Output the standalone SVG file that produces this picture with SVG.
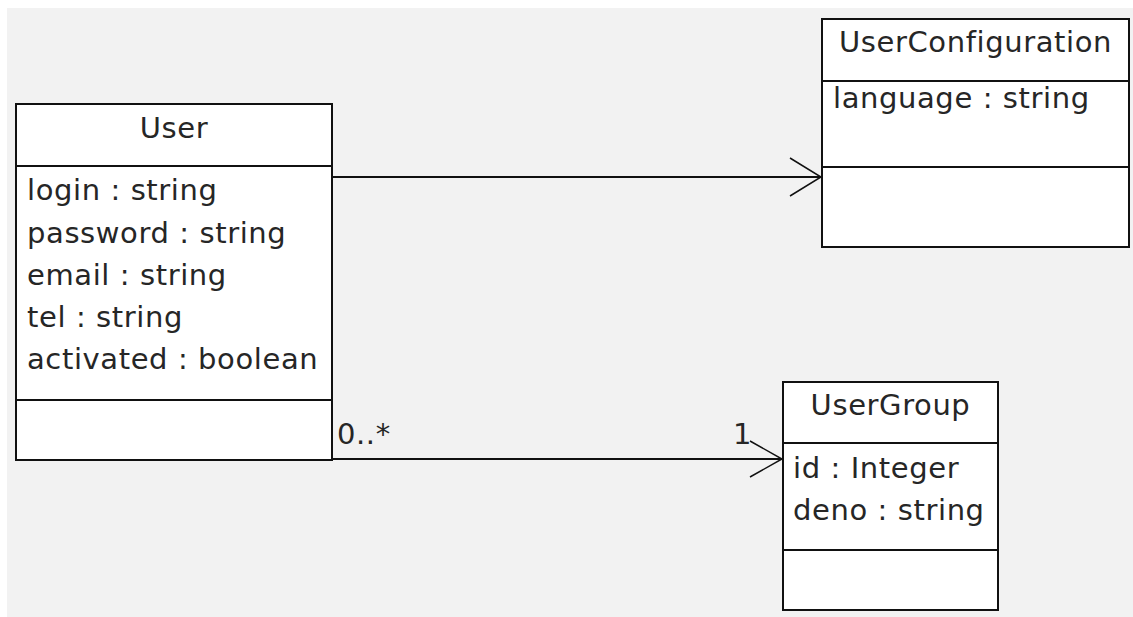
<svg xmlns="http://www.w3.org/2000/svg" width="1133" height="617" viewBox="0 0 1133 617">
  <style>
    .box { fill: #ffffff; stroke: #111111; stroke-width: 2; }
    .div { stroke: #111111; stroke-width: 2; }
    .t { font-family: "DejaVu Sans", "Liberation Sans", sans-serif; font-size: 29px; letter-spacing: 0.6px; fill: #262626; }
    .c { text-anchor: middle; }
    .edge { stroke: #111111; stroke-width: 2; fill: none; }
    .head { stroke: #111111; stroke-width: 1.5; fill: none; }
  </style>
  <rect x="0" y="0" width="1133" height="617" fill="#ffffff"/>
  <rect x="7" y="8" width="1126" height="609" fill="#f2f2f2"/>

  <g id="connectors">
    <line class="edge" x1="331" y1="177" x2="821" y2="177"/>
    <polyline class="head" points="790,158 821,177 790,196"/>
    <line class="edge" x1="331" y1="459" x2="782" y2="459"/>
    <polyline class="head" points="750,441 782,459 750,477"/>
    <text class="t" x="337" y="444" font-size="27">0..*</text>
    <text class="t" x="733" y="444" font-size="27">1</text>
  </g>

  <g id="User">
    <rect class="box" x="16" y="104" width="316" height="356"/>
    <line class="div" x1="16" y1="166" x2="332" y2="166"/>
    <line class="div" x1="16" y1="400" x2="332" y2="400"/>
    <text class="t c" x="174" y="138">User</text>
    <text class="t" x="27" y="200">login : string</text>
    <text class="t" x="27" y="243">password : string</text>
    <text class="t" x="27" y="285">email : string</text>
    <text class="t" x="27" y="327">tel : string</text>
    <text class="t" x="27" y="369">activated : boolean</text>
  </g>

  <g id="UserConfiguration">
    <rect class="box" x="822" y="19" width="307" height="228"/>
    <line class="div" x1="822" y1="81" x2="1129" y2="81"/>
    <line class="div" x1="822" y1="167" x2="1129" y2="167"/>
    <text class="t c" x="975.5" y="52">UserConfiguration</text>
    <text class="t" x="833" y="108">language : string</text>
  </g>

  <g id="UserGroup">
    <rect class="box" x="783" y="382" width="215" height="228"/>
    <line class="div" x1="783" y1="443" x2="998" y2="443"/>
    <line class="div" x1="783" y1="550" x2="998" y2="550"/>
    <text class="t c" x="890.5" y="415">UserGroup</text>
    <text class="t" x="793" y="478">id : Integer</text>
    <text class="t" x="793" y="520">deno : string</text>
  </g>
</svg>
